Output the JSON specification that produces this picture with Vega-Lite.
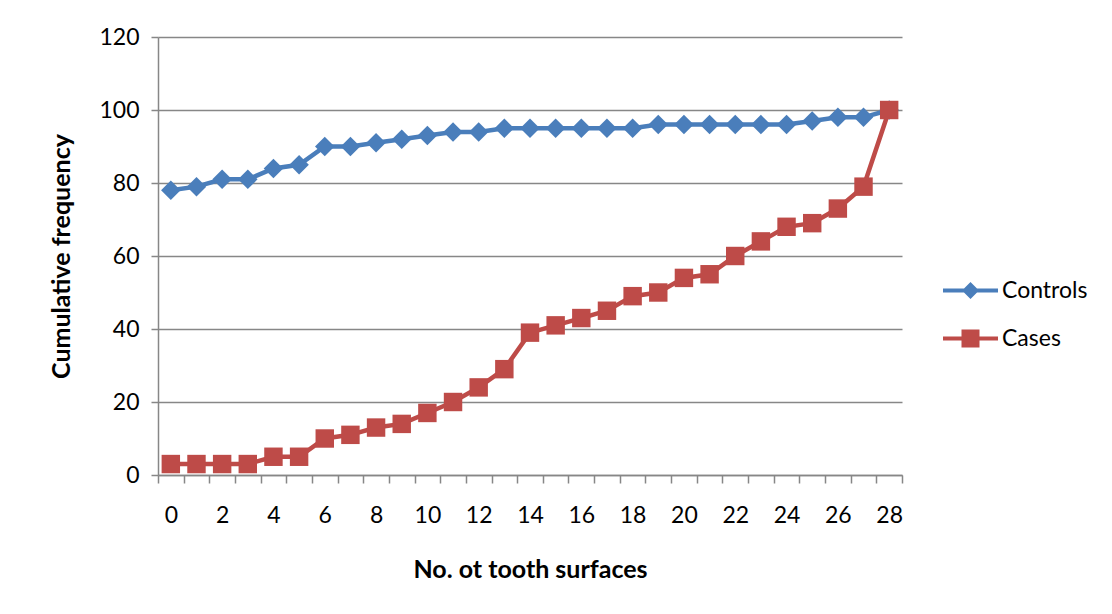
{
  "$schema": "https://vega.github.io/schema/vega-lite/v6.json",
  "width": 744,
  "height": 438,
  "autosize": {"type": "none"},
  "padding": {"left": 158, "top": 37, "right": 210, "bottom": 139},
  "background": "white",
  "config": {
    "font": "Lato",
    "view": {"stroke": null},
    "axis": {"domainColor": "#878787", "tickColor": "#878787", "gridColor": "#878787", "labelColor": "#000000", "titleColor": "#000000", "labelFont": "Lato", "titleFont": "Lato"}
  },
  "data": {
    "values": [
      {"x": 0, "series": "Controls", "y": 78}, {"x": 1, "series": "Controls", "y": 79}, {"x": 2, "series": "Controls", "y": 81}, {"x": 3, "series": "Controls", "y": 81},
      {"x": 4, "series": "Controls", "y": 84}, {"x": 5, "series": "Controls", "y": 85}, {"x": 6, "series": "Controls", "y": 90}, {"x": 7, "series": "Controls", "y": 90},
      {"x": 8, "series": "Controls", "y": 91}, {"x": 9, "series": "Controls", "y": 92}, {"x": 10, "series": "Controls", "y": 93}, {"x": 11, "series": "Controls", "y": 94},
      {"x": 12, "series": "Controls", "y": 94}, {"x": 13, "series": "Controls", "y": 95}, {"x": 14, "series": "Controls", "y": 95}, {"x": 15, "series": "Controls", "y": 95},
      {"x": 16, "series": "Controls", "y": 95}, {"x": 17, "series": "Controls", "y": 95}, {"x": 18, "series": "Controls", "y": 95}, {"x": 19, "series": "Controls", "y": 96},
      {"x": 20, "series": "Controls", "y": 96}, {"x": 21, "series": "Controls", "y": 96}, {"x": 22, "series": "Controls", "y": 96}, {"x": 23, "series": "Controls", "y": 96},
      {"x": 24, "series": "Controls", "y": 96}, {"x": 25, "series": "Controls", "y": 97}, {"x": 26, "series": "Controls", "y": 98}, {"x": 27, "series": "Controls", "y": 98},
      {"x": 28, "series": "Controls", "y": 100},
      {"x": 0, "series": "Cases", "y": 3}, {"x": 1, "series": "Cases", "y": 3}, {"x": 2, "series": "Cases", "y": 3}, {"x": 3, "series": "Cases", "y": 3},
      {"x": 4, "series": "Cases", "y": 5}, {"x": 5, "series": "Cases", "y": 5}, {"x": 6, "series": "Cases", "y": 10}, {"x": 7, "series": "Cases", "y": 11},
      {"x": 8, "series": "Cases", "y": 13}, {"x": 9, "series": "Cases", "y": 14}, {"x": 10, "series": "Cases", "y": 17}, {"x": 11, "series": "Cases", "y": 20},
      {"x": 12, "series": "Cases", "y": 24}, {"x": 13, "series": "Cases", "y": 29}, {"x": 14, "series": "Cases", "y": 39}, {"x": 15, "series": "Cases", "y": 41},
      {"x": 16, "series": "Cases", "y": 43}, {"x": 17, "series": "Cases", "y": 45}, {"x": 18, "series": "Cases", "y": 49}, {"x": 19, "series": "Cases", "y": 50},
      {"x": 20, "series": "Cases", "y": 54}, {"x": 21, "series": "Cases", "y": 55}, {"x": 22, "series": "Cases", "y": 60}, {"x": 23, "series": "Cases", "y": 64},
      {"x": 24, "series": "Cases", "y": 68}, {"x": 25, "series": "Cases", "y": 69}, {"x": 26, "series": "Cases", "y": 73}, {"x": 27, "series": "Cases", "y": 79},
      {"x": 28, "series": "Cases", "y": 100}
    ]
  },
  "encoding": {
    "x": {
      "field": "x", "type": "ordinal",
      "scale": {"type": "band", "paddingInner": 0, "paddingOuter": 0},
      "axis": {
        "title": "No. ot tooth surfaces", "titleFontSize": 25, "titleFontWeight": "bold", "titlePadding": 30,
        "labelAngle": 0, "labelFontSize": 23, "labelPadding": 21,
        "labelExpr": "datum.value % 2 == 0 ? datum.label : ''",
        "tickBand": "extent", "tickSize": 8, "domainWidth": 1.5, "tickWidth": 1.5, "grid": false
      }
    },
    "y": {
      "field": "y", "type": "quantitative",
      "scale": {"domain": [0, 120], "nice": false},
      "axis": {
        "title": "Cumulative frequency", "titleFontSize": 25, "titleFontWeight": "bold", "titlePadding": 24,
        "values": [0, 20, 40, 60, 80, 100, 120], "labelFontSize": 23, "labelPadding": 12,
        "tickSize": 7, "domainWidth": 1.5, "tickWidth": 1.5, "gridWidth": 1.5
      }
    },
    "color": {
      "field": "series", "type": "nominal",
      "scale": {"domain": ["Controls", "Cases"], "range": ["#4a7ebb", "#be4b48"]},
      "legend": {
        "title": null, "orient": "none", "legendX": 801, "legendY": 242,
        "labelFontSize": 23, "labelFont": "Lato", "labelColor": "#000000", "labelOffset": 20,
        "symbolSize": 400, "rowPadding": 24, "symbolStrokeWidth": 0,
        "encode": {
          "symbols": {
            "update": {
              "shape": {"signal": "datum.value === 'Controls' ? 'M-2.75,-0.2L2.75,-0.2L2.75,0.2L-2.75,0.2Z M0,-0.85L0.85,0L0,0.85L-0.85,0Z' : 'M-2.75,-0.2L2.75,-0.2L2.75,0.2L-2.75,0.2Z M-0.9,-0.9L0.9,-0.9L0.9,0.9L-0.9,0.9Z'"},
              "fill": {"signal": "datum.value === 'Controls' ? '#4a7ebb' : '#be4b48'"},
              "fillOpacity": {"value": 1},
              "strokeWidth": {"value": 0}
            }
          }
        }
      }
    }
  },
  "layer": [
    {"mark": {"type": "line", "strokeWidth": 4.5}},
    {
      "transform": [{"filter": "datum.series === 'Controls'"}],
      "mark": {"type": "point", "filled": true, "opacity": 1, "size": 380, "shape": "diamond"}
    },
    {
      "transform": [{"filter": "datum.series === 'Cases'"}],
      "mark": {"type": "point", "filled": true, "opacity": 1, "size": 340, "shape": "square"}
    }
  ]
}
